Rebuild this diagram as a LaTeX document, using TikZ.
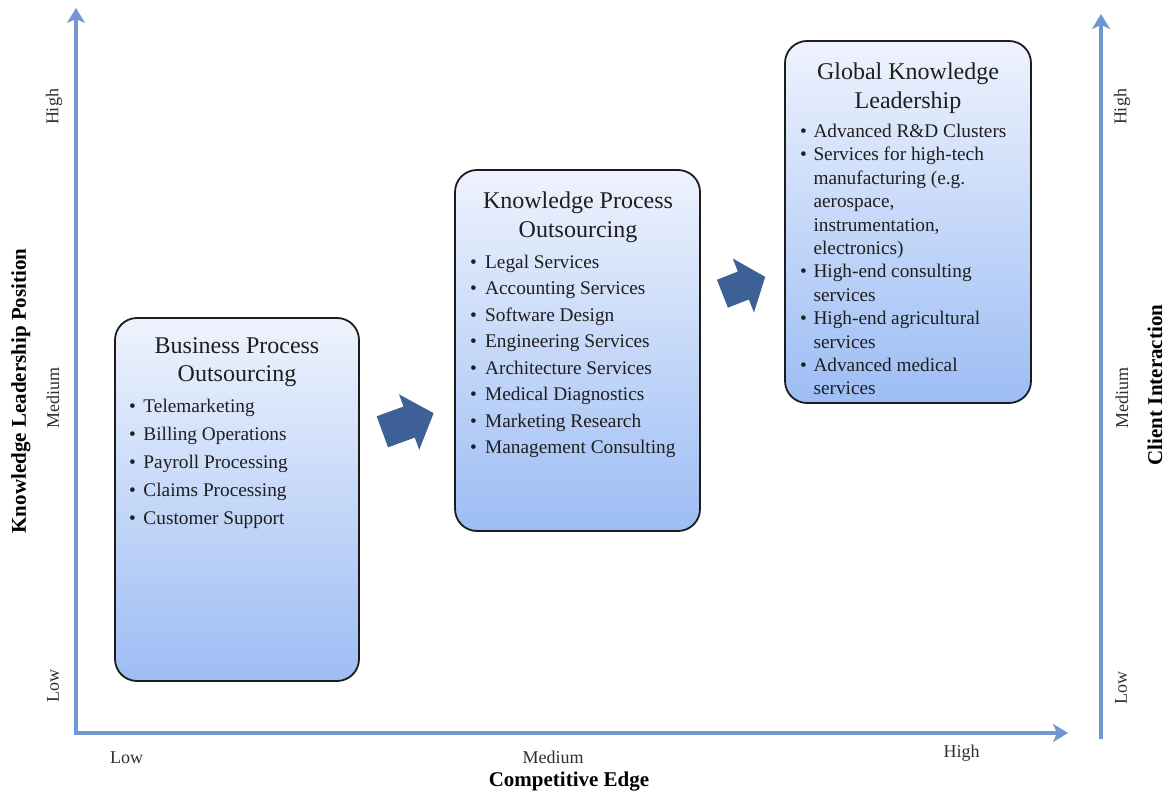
\documentclass[tikz,border=0pt]{standalone}
\usepackage{fontspec}
\setmainfont{Liberation Serif}
\usetikzlibrary{arrows.meta}
\definecolor{axisblue}{HTML}{7097D0}
\definecolor{boxtop}{HTML}{EEF3FD}
\definecolor{boxbottom}{HTML}{9DBDF4}
\definecolor{boxborder}{HTML}{1C1C1C}
\definecolor{arrowblue}{HTML}{3D6096}
\definecolor{textcol}{HTML}{1E1E1E}
\definecolor{labelcol}{HTML}{2E2E2E}
\newcommand\blt[1][14pt]{\makebox[#1][l]{\textbullet}}
\tikzset{
  axisline/.style={line width=4.5pt, draw=axisblue, line join=miter},
  axtip/.tip={Stealth[length=15pt,width=18pt,inset=4pt]},
  boxstyle/.style={draw=boxborder, line width=1.8pt, rounded corners=22pt,
    top color=boxtop, bottom color=boxbottom, inner sep=0pt},
  titletext/.style={font=\fontsize{24}{28.5}\selectfont, align=center,
    inner sep=0pt, anchor=north, text=textcol},
  listtext/.style={align=left, inner sep=0pt, anchor=north west, text=textcol},
  axislabel/.style={font=\fontsize{18}{20}\selectfont, text=labelcol, inner sep=0pt},
  axistitle/.style={font=\bfseries\fontsize{21}{24}\selectfont, text=black, inner sep=0pt},
  blockarrow/.style={fill=arrowblue, draw=none},
}
\begin{document}
\begin{tikzpicture}[x=1pt,y=-1pt]
\useasboundingbox (0,0) rectangle (1166,799);
\clip (0,0) rectangle (1166,799);
% axes
\coordinate (ytop) at (76,8);
\coordinate (orig) at (76,733);
\coordinate (xend) at (1068,733);
\coordinate (rtop) at (1101,14);
\coordinate (rbot) at (1101,739);
\draw[axisline, axtip-axtip] (ytop) -- (orig) -- (xend);
\draw[axisline, -axtip] (rbot) -- (rtop);
% axis labels
\node[axislabel, rotate=90] (lhigh) at (54,107) {High};
\node[axislabel, rotate=90] (lmed)  at (53,398) {Medium};
\node[axislabel, rotate=90] (llow)  at (53,686) {Low};
\node[axislabel, rotate=90] (rhigh) at (1122,107) {High};
\node[axislabel, rotate=90] (rmed)  at (1122,398) {Medium};
\node[axislabel, rotate=90] (rlow)  at (1121,688) {Low};
\node[axislabel] (blow)  at (126.5,758) {Low};
\node[axislabel] (bmed)  at (553,757) {Medium};
\node[axislabel] (bhigh) at (961.5,753) {High};
\node[axistitle] (xtitle) at (569,782) {Competitive Edge};
\node[axistitle, rotate=90] (ytitle) at (21,391) {Knowledge Leadership Position};
\node[axistitle, rotate=90] (rtitle) at (1155,385) {Client Interaction};
% boxes
\node[boxstyle, minimum width=244pt, minimum height=363pt] (bpo) at (237,499.5) {};
\node[boxstyle, minimum width=245pt, minimum height=361pt] (kpo) at (577.5,350.5) {};
\node[boxstyle, minimum width=246pt, minimum height=362pt] (gkl) at (908,222) {};
% titles
\node[titletext] (bpot) at (237,337) {Business Process\\Outsourcing};
\node[titletext] (kpot) at (578,192) {Knowledge Process\\Outsourcing};
\node[titletext] (gklt) at (908,63) {Global Knowledge\\Leadership};
% lists
\node[listtext, font=\fontsize{19.3}{28}\selectfont] (bpol) at (129,398.7) {%
\blt[14.3pt]Telemarketing\\
\blt[14.3pt]Billing Operations\\
\blt[14.3pt]Payroll Processing\\
\blt[14.3pt]Claims Processing\\
\blt[14.3pt]Customer Support};
\node[listtext, font=\fontsize{19.3}{26.5}\selectfont] (kpol) at (470,254.7) {%
\blt[15pt]Legal Services\\
\blt[15pt]Accounting Services\\
\blt[15pt]Software Design\\
\blt[15pt]Engineering Services\\
\blt[15pt]Architecture Services\\
\blt[15pt]Medical Diagnostics\\
\blt[15pt]Marketing Research\\
\blt[15pt]Management Consulting};
\node[listtext, font=\fontsize{19.3}{23.4}\selectfont] (gkll) at (800,124) {%
\blt[13.3pt]Advanced R\&D Clusters\\
\blt[13.3pt]Services for high-tech\\
\hspace*{13.3pt}manufacturing (e.g.\\
\hspace*{13.3pt}aerospace,\\
\hspace*{13.3pt}instrumentation,\\
\hspace*{13.3pt}electronics)\\
\blt[13.3pt]High-end consulting\\
\hspace*{13.3pt}services\\
\blt[13.3pt]High-end agricultural\\
\hspace*{13.3pt}services\\
\blt[13.3pt]Advanced medical\\
\hspace*{13.3pt}services};
% block arrows
\begin{scope}[shift={(408,422.5)}, rotate=20]
\fill[blockarrow] (-27.3,-16.5) -- (1.2,-16.5) -- (1.2,-29.5) -- (27.3,0) -- (1.2,29.5) -- (1.2,16.5) -- (-27.3,16.5) -- cycle;
\end{scope}
\begin{scope}[shift={(743.8,285.3)}, rotate=21.5]
\fill[blockarrow] (-23,-15) -- (-0.5,-15) -- (-0.5,-29) -- (23,0) -- (-0.5,29) -- (-0.5,15) -- (-23,15) -- cycle;
\end{scope}
\end{tikzpicture}
\end{document}
